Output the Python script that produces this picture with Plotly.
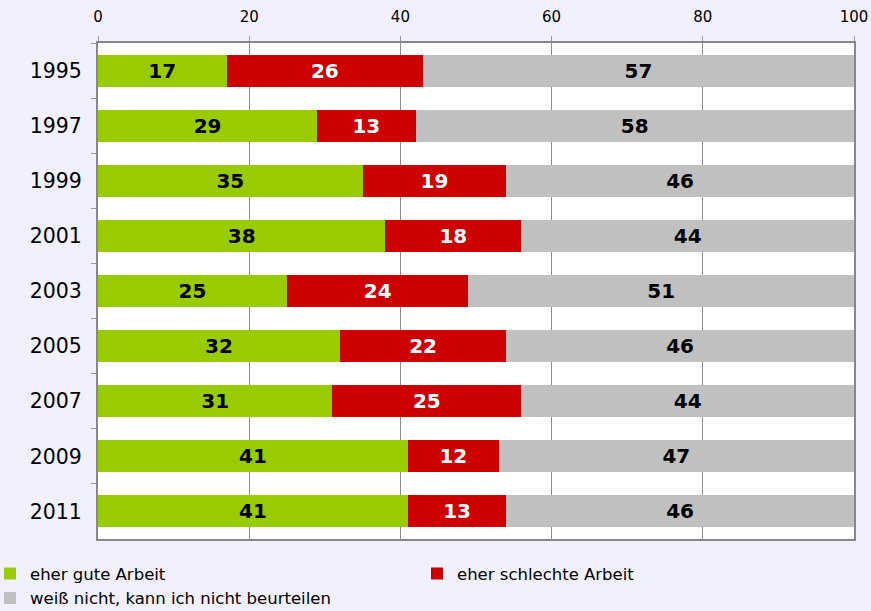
import plotly.graph_objects as go

years = ["1995", "1997", "1999", "2001", "2003", "2005", "2007", "2009", "2011"]
gute = [17, 29, 35, 38, 25, 32, 31, 41, 41]
schlechte = [26, 13, 19, 18, 24, 22, 25, 12, 13]
weiss = [57, 58, 46, 44, 51, 46, 44, 47, 46]
x_ticks = [0, 20, 40, 60, 80, 100]

series = [
    ("eher gute Arbeit", gute, "#99CC00", "black"),
    ("eher schlechte Arbeit", schlechte, "#CC0000", "white"),
    ("weiß nicht, kann ich nicht beurteilen", weiss, "#C0C0C0", "black"),
]

fig = go.Figure()
for name, vals, color, tcolor in series:
    fig.add_trace(go.Bar(
        y=years, x=vals, name=name, orientation="h",
        marker=dict(color=color, line=dict(width=0)),
        text=[str(v) for v in vals], textposition="inside",
        insidetextanchor="middle", textangle=0,
        textfont=dict(family="DejaVu Sans", size=20, color=tcolor, weight="bold"),
        hoverinfo="skip",
    ))

fig.update_layout(
    barmode="stack",
    bargap=0.42,
    width=871, height=611,
    paper_bgcolor="#F0F0FF",
    plot_bgcolor="white",
    margin=dict(l=98, r=17, t=43, b=72, autoexpand=False),
    font=dict(family="DejaVu Sans", color="black"),
    showlegend=True,
    legend=dict(
        orientation="h", x=-96 / 756, y=-0.035, xanchor="left", yanchor="top",
        entrywidth=0.5, entrywidthmode="fraction",
        font=dict(family="DejaVu Sans", size=16.5),
        traceorder="normal", tracegroupgap=0, indentation=-12,
        bgcolor="rgba(0,0,0,0)", borderwidth=0,
    ),
    xaxis=dict(
        side="top", range=[0, 100], tickvals=x_ticks,
        showgrid=True, gridcolor="#8C8C8C", gridwidth=1,
        showline=True, linecolor="#888888", linewidth=2, mirror=True,
        ticks="outside", ticklen=5, tickcolor="#999999",
        tickfont=dict(size=15), ticklabelstandoff=8,
        zeroline=False, fixedrange=True,
    ),
    yaxis=dict(
        categoryorder="array", categoryarray=years, autorange="reversed",
        showline=True, linecolor="#888888", linewidth=2, mirror=True,
        ticks="outside", ticklen=5, tickcolor="#999999", tickson="boundaries",
        tickfont=dict(size=20.5), ticklabelstandoff=10,
        showgrid=False, fixedrange=True,
    ),
)

fig.write_html("out.html", config={"displayModeBar": False},
               post_script="document.body.style.margin='0';")
